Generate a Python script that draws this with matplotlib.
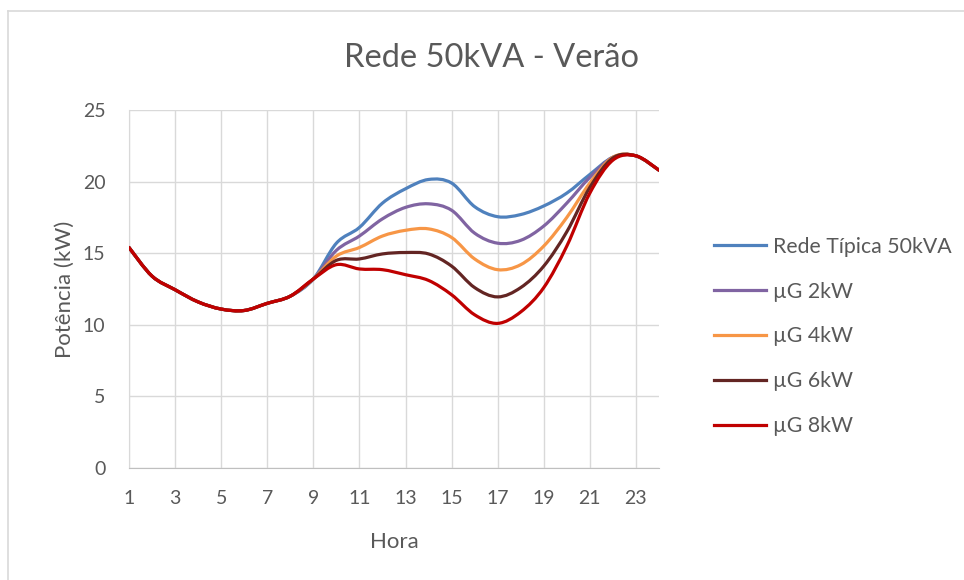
import matplotlib
matplotlib.use("Agg")
from matplotlib import pyplot as plt
from matplotlib.path import Path
from matplotlib.patches import PathPatch
from matplotlib.lines import Line2D
import numpy as np

plt.rcParams["font.family"] = ["Lato", "DejaVu Sans"]

hours = list(range(1, 25))
base = [15.4, 13.4, 12.45, 11.6, 11.1, 11.0, 11.5, 12.0, 13.2]

rede = base + [15.7, 16.8, 18.5, 19.5, 20.15, 19.9, 18.25, 17.55, 17.7, 18.3, 19.2, 20.5, 21.7, 21.8, 20.8]
ug2 = base + [15.2, 16.2, 17.4, 18.2, 18.45, 18.0, 16.4, 15.7, 15.9, 16.9, 18.5, 20.3, 21.7, 21.8, 20.8]
ug4 = base + [14.8, 15.4, 16.2, 16.6, 16.7, 16.1, 14.6, 13.85, 14.2, 15.5, 17.5, 19.9, 21.7, 21.8, 20.8]
ug6 = base + [14.5, 14.6, 14.95, 15.05, 14.95, 14.1, 12.6, 11.95, 12.6, 14.1, 16.5, 19.6, 21.65, 21.8, 20.8]
ug8 = base + [14.2, 13.9, 13.85, 13.5, 13.1, 12.1, 10.7, 10.1, 10.9, 12.6, 15.5, 19.2, 21.5, 21.8, 20.8]

labels = ["Rede Típica 50kVA", "µG 2kW", "µG 4kW", "µG 6kW", "µG 8kW"]
series = [rede, ug2, ug4, ug6, ug8]
colors = ["#4f81bd", "#8064a2", "#f79646", "#632523", "#c00000"]

txt = "#595959"
grid_c = "#d9d9d9"


def smooth_path(x, y):
    # bezier segments like Excel's "smoothed line"
    p = np.column_stack([x, y]).astype(float)
    n = len(p)
    verts = [p[0]]
    codes = [Path.MOVETO]
    for i in range(n - 1):
        p0 = p[i - 1] if i > 0 else p[i]
        p3 = p[i + 2] if i + 2 < n else p[i + 1]
        c1 = p[i] + (p[i + 1] - p0) / 6
        c2 = p[i + 1] - (p3 - p[i]) / 6
        verts += [c1, c2, p[i + 1]]
        codes += [Path.CURVE4] * 3
    return Path(verts, codes)


fig = plt.figure(figsize=(9.64, 5.8), dpi=100)
ax = fig.add_axes([0.1338, 0.1931, 0.5498, 0.6172])

for vals, c in zip(series, colors):
    ax.add_patch(PathPatch(smooth_path(hours, vals), facecolor="none",
                           edgecolor=c, lw=2.3, capstyle="round", joinstyle="round", zorder=3))

ax.set_xlim(1, 24)
ax.set_ylim(0, 25)
ax.set_xticks(range(1, 24, 2))
ax.set_yticks(range(0, 26, 5))
ax.grid(True, color=grid_c, lw=1)
ax.set_axisbelow(True)
ax.tick_params(length=0, labelsize=14, colors=txt)
ax.tick_params(axis="x", pad=16)
ax.tick_params(axis="y", pad=17)
for s in ["top", "right"]:
    ax.spines[s].set_visible(False)
ax.spines["left"].set_color(grid_c)
ax.spines["bottom"].set_color("#bfbfbf")

ax.set_xlabel("Hora", fontsize=16, color=txt, labelpad=18)
ax.set_ylabel("Potência (kW)", fontsize=16, color=txt, labelpad=6)
fig.text(0.51, 0.90, "Rede 50kVA - Verão", fontsize=23.5, color=txt, ha="center", va="center")

handles = [Line2D([], [], color=c, lw=2.3) for c in colors]
leg = fig.legend(handles, labels, loc="center left", bbox_to_anchor=(0.741, 0.42), frameon=False,
                 fontsize=15.3, labelspacing=1.17, handlelength=2.45, handletextpad=0.3,
                 borderpad=0, borderaxespad=0)
for t in leg.get_texts():
    t.set_color(txt)

# outer chart border
fig.add_artist(Line2D([8 / 964, 8 / 964], [0, 1 - 11 / 580], color=grid_c, lw=1.2, transform=fig.transFigure))
fig.add_artist(Line2D([8 / 964, 1], [1 - 11 / 580, 1 - 11 / 580], color=grid_c, lw=1.2, transform=fig.transFigure))

fig.savefig("out.png", dpi=100)
